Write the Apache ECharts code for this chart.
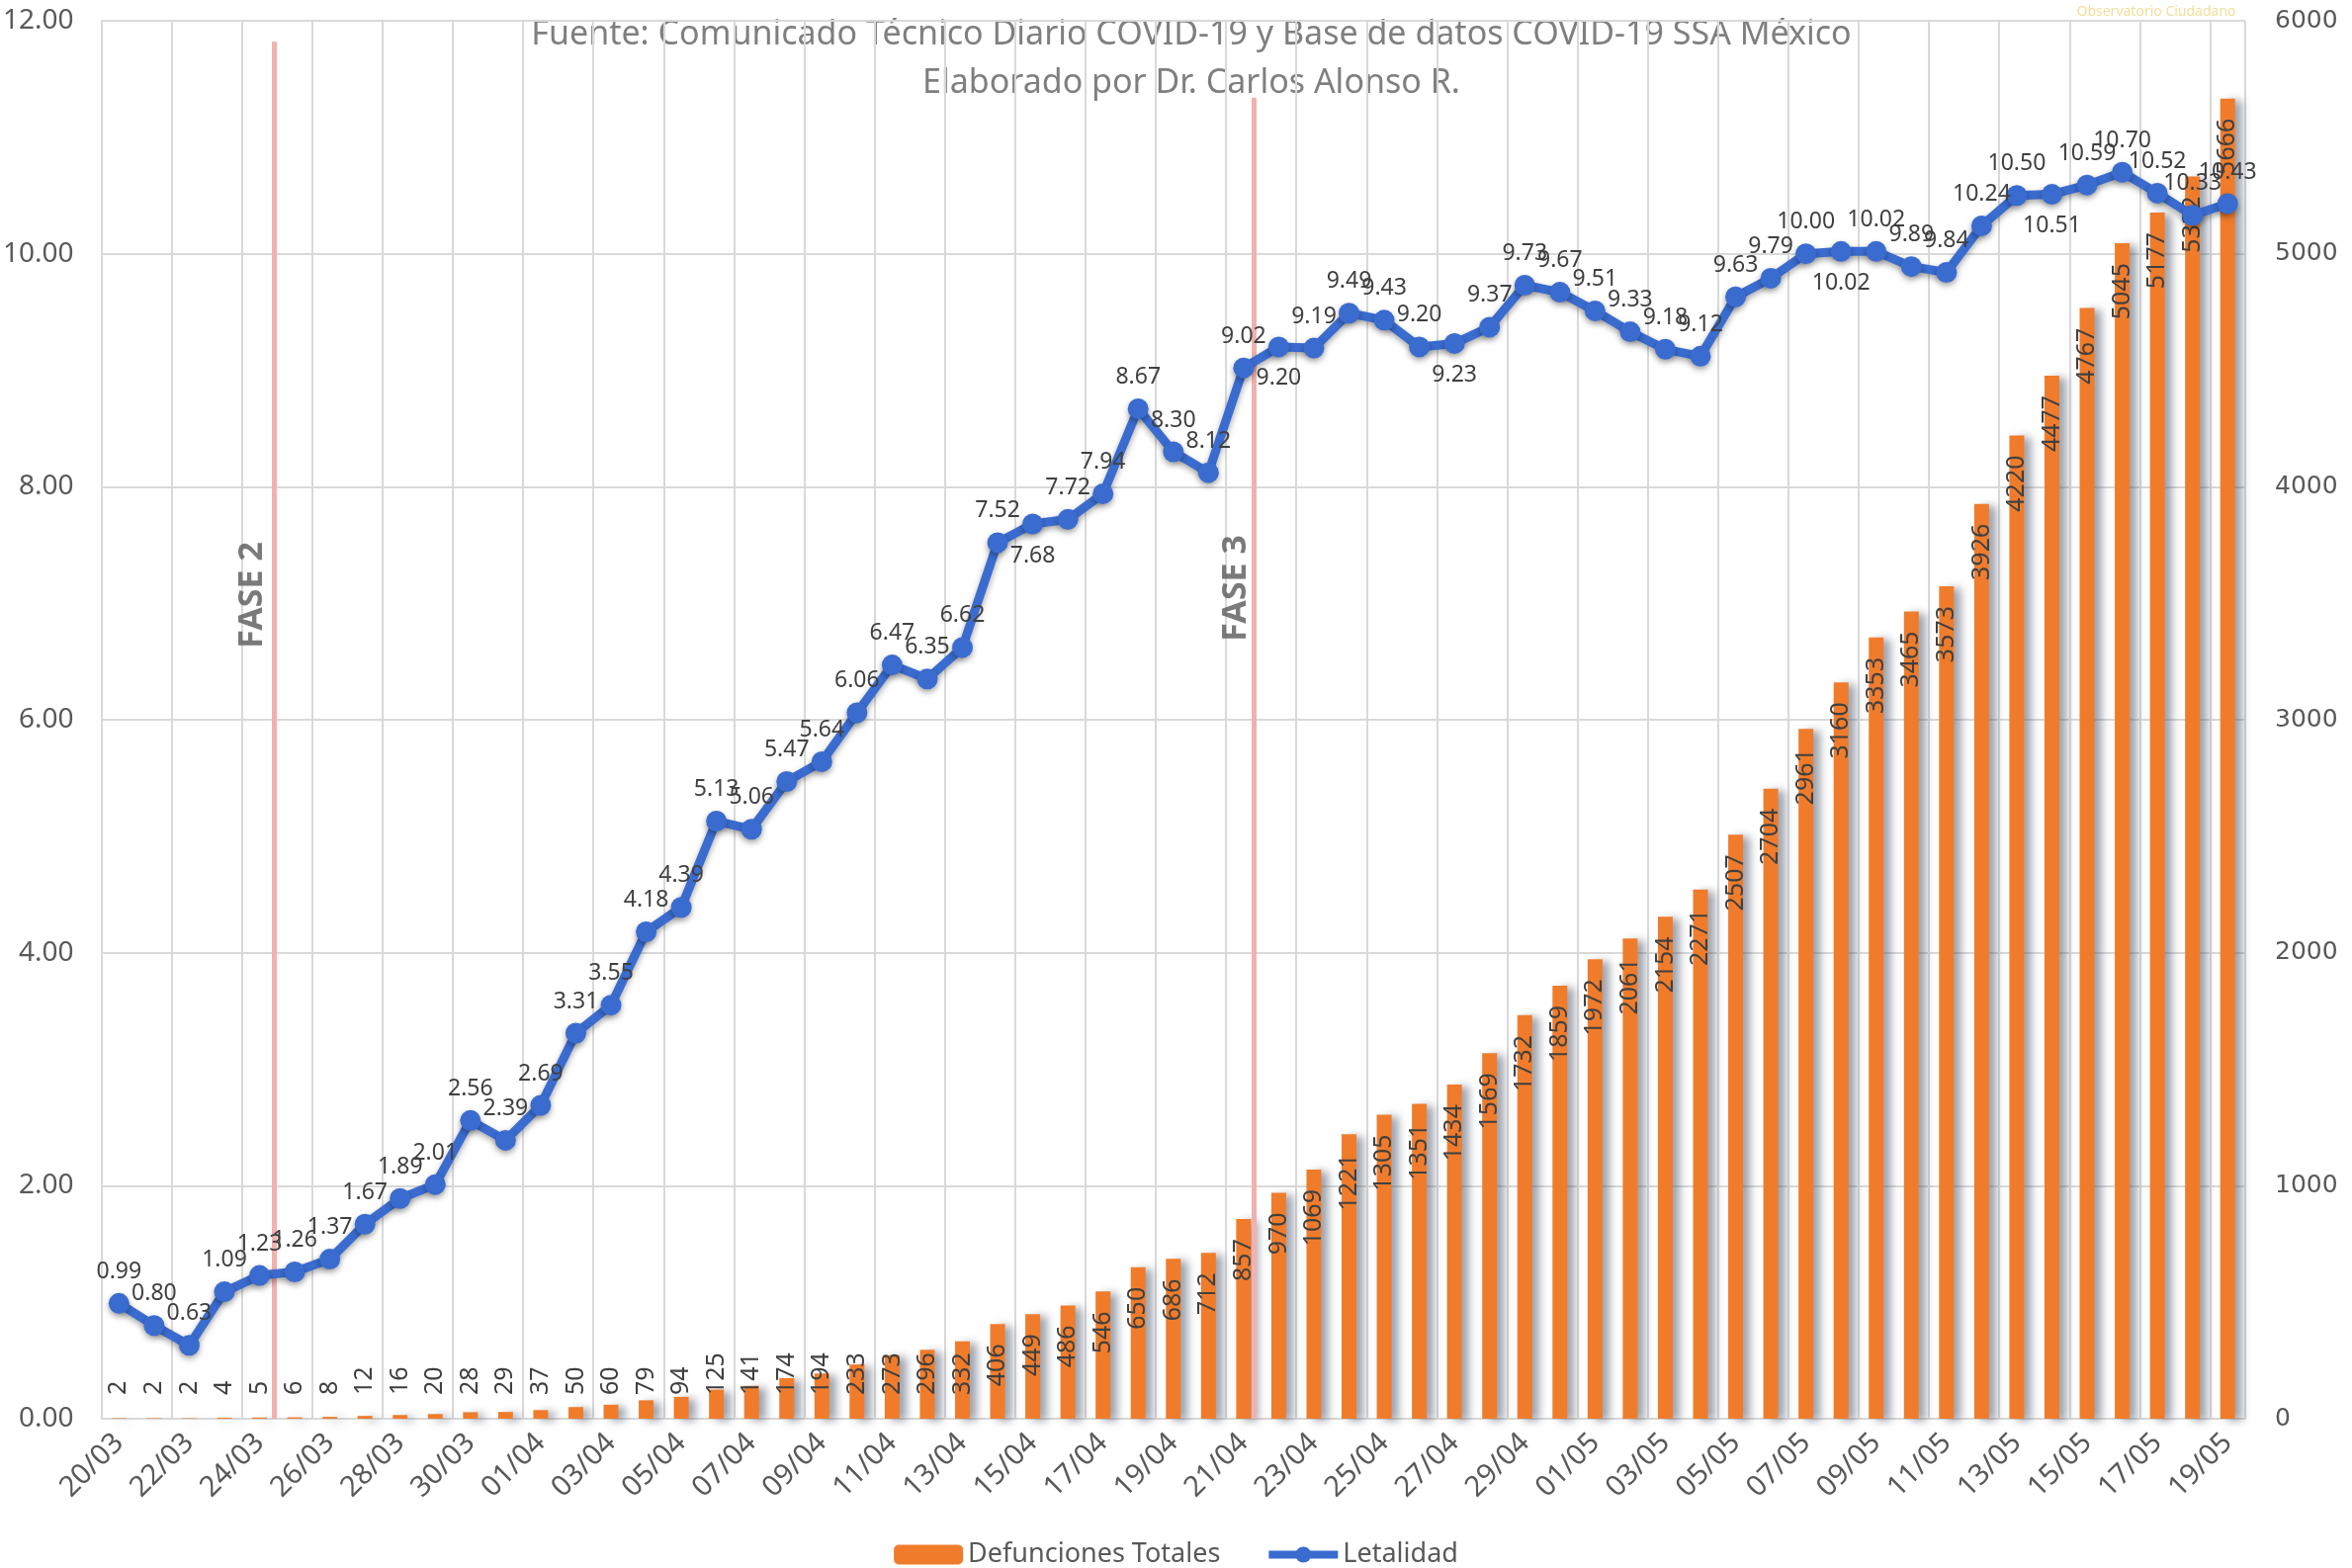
<!DOCTYPE html>
<html>
<head>
<meta charset="utf-8">
<script src="https://cdn.jsdelivr.net/npm/echarts@6/dist/echarts.min.js"></script>
<style>
  html, body { margin: 0; padding: 0; background: #fff; }
  #chart { width: 2379px; height: 1586px; }
</style>
</head>
<body>
<div id="chart"></div>
<script>
// fechas (20/03 - 19/05)
const dates = [
  '20/03','21/03','22/03','23/03','24/03','25/03','26/03','27/03','28/03','29/03','30/03','31/03',
  '01/04','02/04','03/04','04/04','05/04','06/04','07/04','08/04','09/04','10/04','11/04','12/04',
  '13/04','14/04','15/04','16/04','17/04','18/04','19/04','20/04','21/04','22/04','23/04','24/04',
  '25/04','26/04','27/04','28/04','29/04','30/04',
  '01/05','02/05','03/05','04/05','05/05','06/05','07/05','08/05','09/05','10/05','11/05','12/05',
  '13/05','14/05','15/05','16/05','17/05','18/05','19/05'
];

// Defunciones totales (eje derecho)
const defunciones = [
  2, 2, 2, 4, 5, 6, 8, 12, 16, 20, 28, 29,
  37, 50, 60, 79, 94, 125, 141, 174, 194, 233, 273, 296,
  332, 406, 449, 486, 546, 650, 686, 712, 857, 970, 1069, 1221,
  1305, 1351, 1434, 1569, 1732, 1859,
  1972, 2061, 2154, 2271, 2507, 2704, 2961, 3160, 3353, 3465, 3573, 3926,
  4220, 4477, 4767, 5045, 5177, 5332, 5666
];

// Letalidad % (eje izquierdo)
const letalidad = [
  0.99, 0.80, 0.63, 1.09, 1.23, 1.26, 1.37, 1.67, 1.89, 2.01, 2.56, 2.39,
  2.69, 3.31, 3.55, 4.18, 4.39, 5.13, 5.06, 5.47, 5.64, 6.06, 6.47, 6.35,
  6.62, 7.52, 7.68, 7.72, 7.94, 8.67, 8.30, 8.12, 9.02, 9.20, 9.19, 9.49,
  9.43, 9.20, 9.23, 9.37, 9.73, 9.67,
  9.51, 9.33, 9.18, 9.12, 9.63, 9.79, 10.00, 10.02, 10.02, 9.89, 9.84, 10.24,
  10.50, 10.51, 10.59, 10.70, 10.52, 10.33, 10.43
];

// fases (posición en unidades de categoría, tope en eje izquierdo)
const faseNames = ['FASE 2', 'FASE 3'];
const faseX = [4.9, 32.8];
const faseTop = [11.82, 11.34];
const faseLabelX = [4.3, 32.3];
const faseLabelY = [7.07, 7.13];

// etiquetas de letalidad que van debajo del punto
const belowDates = ['15/04', '22/04', '27/04', '08/05', '14/05'];

const FONT = 'Noto Sans';
const GRAY = '#595959';
const GRID = '#d9d9d9';
const BLUE = '#3a6cd0';

const chart = echarts.init(document.getElementById('chart'));

const barData = defunciones.map(v => {
  if (v < 365) {
    return {
      value: v,
      label: { position: 'insideBottom', align: 'left', verticalAlign: 'middle', distance: 24 }
    };
  }
  return v;
});

const lineData = letalidad.map((v, i) => {
  if (belowDates.includes(dates[i])) {
    return { value: v, label: { position: 'bottom' } };
  }
  return v;
});

const option = {
  backgroundColor: '#ffffff',
  animation: false,
  textStyle: { fontFamily: FONT },
  grid: { left: 99, right: 108, top: 21, bottom: 151 },
  legend: {
    top: 1554,
    left: 'center',
    itemWidth: 70,
    itemHeight: 20,
    itemGap: 45,
    lineStyle: { width: 8 },
    textStyle: { color: GRAY, fontSize: 27, fontFamily: FONT },
    data: ['Defunciones Totales', 'Letalidad']
  },
  graphic: [
    {
      type: 'text', x: 1205, y: 35, z: 0,
      style: {
        text: 'Fuente: Comunicado Técnico Diario COVID-19 y Base de datos COVID-19 SSA México',
        font: '34px "Noto Sans"', fill: '#7f7f7f', align: 'center', verticalAlign: 'middle'
      }
    },
    {
      type: 'text', x: 1205, y: 84, z: 0,
      style: {
        text: 'Elaborado por Dr. Carlos Alonso R.',
        font: '34px "Noto Sans"', fill: '#7f7f7f', align: 'center', verticalAlign: 'middle'
      }
    },
    {
      type: 'text', x: 2181, y: 12,
      style: {
        text: 'Observatorio Ciudadano',
        font: '14px "Noto Sans"', fill: '#f1df9a', align: 'center', verticalAlign: 'middle'
      }
    }
  ],
  xAxis: [
    {
      type: 'category',
      data: dates,
      boundaryGap: true,
      axisLine: { lineStyle: { color: GRID, width: 2 } },
      axisTick: { show: false },
      axisLabel: {
        interval: 1, rotate: 45, color: GRAY, fontSize: 29, fontFamily: FONT, margin: 20
      },
      splitLine: { show: true, interval: 1, lineStyle: { color: GRID, width: 2 } }
    },
    { type: 'value', min: 0, max: 61, show: false }
  ],
  yAxis: [
    {
      type: 'value', min: 0, max: 12, interval: 2,
      axisLine: { show: false }, axisTick: { show: false },
      axisLabel: { color: GRAY, fontSize: 28, fontFamily: FONT, margin: 28, formatter: v => v.toFixed(2) },
      splitLine: { lineStyle: { color: GRID, width: 2 } }
    },
    {
      type: 'value', min: 0, max: 6000, interval: 1000,
      axisLine: { show: false }, axisTick: { show: false },
      axisLabel: { color: GRAY, fontSize: 25, fontFamily: 'DejaVu Sans', margin: 30, formatter: v => String(v) },
      splitLine: { show: false }
    }
  ],
  series: [
    {
      name: 'Defunciones Totales',
      type: 'bar',
      xAxisIndex: 0,
      yAxisIndex: 1,
      barWidth: 15,
      data: barData,
      itemStyle: {
        color: '#f07c2b',
        shadowColor: 'rgba(60,70,90,0.5)',
        shadowBlur: 8,
        shadowOffsetX: 7,
        shadowOffsetY: 2
      },
      label: {
        show: true,
        position: 'insideTop',
        rotate: 90,
        align: 'right',
        verticalAlign: 'middle',
        distance: 20,
        color: '#404040',
        fontSize: 25,
        fontFamily: FONT
      },
      z: 2
    },
    {
      name: 'fases',
      type: 'scatter',
      xAxisIndex: 1,
      yAxisIndex: 0,
      symbolSize: 0,
      silent: true,
      data: faseLabelX.map((x, i) => ({ value: [x, faseLabelY[i]], name: faseNames[i] })),
      label: {
        show: true,
        position: 'inside',
        rotate: 90,
        formatter: p => p.name,
        color: GRAY,
        fontSize: 34,
        fontWeight: 'bold',
        fontFamily: FONT
      },
      markLine: {
        silent: true,
        symbol: 'none',
        label: { show: false },
        lineStyle: { color: '#f2b0b0', width: 5, type: 'solid' },
        data: faseX.map((x, i) => [{ coord: [x, faseTop[i]] }, { coord: [x, 0] }])
      },
      z: 3
    },
    {
      name: 'Letalidad',
      type: 'line',
      xAxisIndex: 0,
      yAxisIndex: 0,
      data: lineData,
      symbol: 'circle',
      symbolSize: 21,
      color: BLUE,
      lineStyle: {
        width: 9,
        color: BLUE,
        shadowColor: 'rgba(0,0,0,0.35)',
        shadowBlur: 6,
        shadowOffsetY: 3
      },
      itemStyle: {
        color: BLUE,
        shadowColor: 'rgba(0,0,0,0.35)',
        shadowBlur: 6,
        shadowOffsetY: 3
      },
      label: {
        show: true,
        position: 'top',
        distance: 10,
        color: '#404040',
        fontSize: 23,
        fontFamily: FONT,
        formatter: p => p.value.toFixed(2)
      },
      z: 5
    }
  ]
};

chart.setOption(option);
</script>
</body>
</html>
